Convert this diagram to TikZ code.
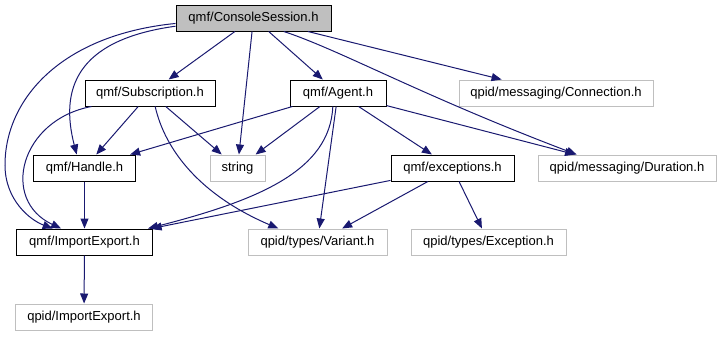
\documentclass[tikz,border=0pt]{standalone}
\usepackage{fontspec}
\setmainfont{Liberation Sans}
\usepackage{xcolor}
\definecolor{edgeblue}{RGB}{25,25,112}
\definecolor{extgray}{RGB}{191,191,191}
\usetikzlibrary{arrows.meta}

\begin{document}
\begin{tikzpicture}[x=1bp, y=-1bp,
  box/.style={draw=black, line width=1bp, fill=white, minimum height=26bp, inner sep=0pt, font=\fontsize{13bp}{15bp}\selectfont},
  extbox/.style={box, draw=extgray},
  dep/.style={draw=edgeblue, line width=1bp, -{Triangle[length=10bp, width=8bp]}}]
\useasboundingbox (0,0) rectangle (720,336);
\node[box, fill=extgray, minimum width=155bp] (cs) at (253.5,18) {qmf/ConsoleSession.h};
\foreach \name/\x/\y/\w/\txt in {sub/150/93/130/{qmf/Subscription.h}, agent/338/93/96/{qmf/Agent.h}, handle/84.5/168/101/{qmf/Handle.h}, exc/452.5/168/123/{qmf/exceptions.h}, qie/84.5/242/135/{qmf/ImportExport.h}}{
\node[box, minimum width=\w bp] (\name) at (\x,\y) {\txt};
}
\foreach \name/\x/\y/\w/\txt in {conn/556/93/194/{qpid/messaging/Connection.h}, str/237.5/168/55/{string}, dur/627/168/178/{qpid/messaging/Duration.h}, var/317.5/242/139/{qpid/types/Variant.h}, texc/488.5/242/155/{qpid/types/Exception.h}, pie/84/317/136/{qpid/ImportExport.h}}{
\node[extbox, minimum width=\w bp] (\name) at (\x,\y) {\txt};
}
\foreach \a/\b in {cs/sub, cs/agent, cs/str, cs/conn, sub/handle, sub/str, agent/handle, agent/str, agent/exc, agent/var, agent/dur, exc/qie, exc/var, exc/texc, handle/qie, qie/pie}{
\draw[dep] (\a) -- (\b);
}
\draw[dep] (cs.186) .. controls (75,40) and (60,90) .. (handle.120);
\draw[dep] (cs.184) .. controls (60,35) and (5,100) .. (5,165) .. controls (5,200) and (30,220) .. (qie.157);
\draw[dep] (sub.193) .. controls (20,120) and (0,200) .. (qie.150);
\draw[dep] (sub.291) .. controls (165,150) and (200,195) .. (var.161);
\draw[dep] (agent.249) .. controls (330,170) and (260,200) .. (qie.12);
\draw[dep] (cs.336) .. controls (340,50) and (420,95) .. (dur.165);
\end{tikzpicture}
\end{document}
